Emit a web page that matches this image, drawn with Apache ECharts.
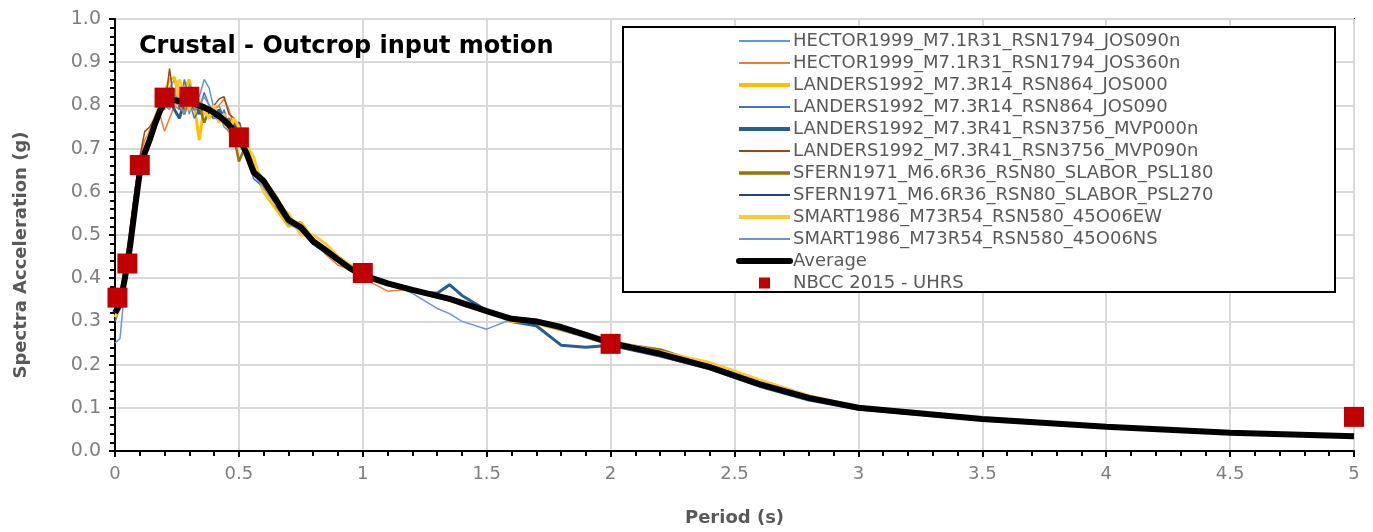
<!DOCTYPE html>
<html>
<head>
<meta charset="utf-8">
<script src="https://cdn.jsdelivr.net/npm/echarts@6/dist/echarts.min.js"></script>
<style>
  html, body { margin: 0; padding: 0; background: #fff; }
  #chart { width: 1373px; height: 532px; }
</style>
</head>
<body>
<div id="chart"></div>
<script>
// Periods (s) shared by every record and the average
const PERIODS = [0, 0.02, 0.04, 0.06, 0.08, 0.1, 0.12, 0.14, 0.16, 0.18,
  0.2, 0.22, 0.24, 0.26, 0.28, 0.3, 0.32, 0.34, 0.36, 0.38,
  0.4, 0.42, 0.44, 0.46, 0.48, 0.5, 0.53, 0.56, 0.6, 0.65,
  0.7, 0.75, 0.8, 0.85, 0.9, 0.95, 1.0, 1.1, 1.2, 1.3,
  1.35, 1.4, 1.5, 1.6, 1.7, 1.8, 1.9, 2.0, 2.2, 2.4,
  2.6, 2.8, 3.0, 3.5, 4.0, 4.5, 5.0];

// Spectral acceleration (g) of each scaled record
const HECTOR_JOS090N = [0.31,0.33,0.39,0.47,0.55,0.63,0.68,0.71,0.74,0.78,
  0.80,0.84,0.86,0.80,0.82,0.78,0.83,0.82,0.86,0.84,
  0.79,0.80,0.77,0.74,0.76,0.72,0.70,0.64,0.61,0.57,
  0.53,0.51,0.48,0.46,0.44,0.42,0.40,0.39,0.37,0.36,
  0.35,0.34,0.32,0.30,0.295,0.28,0.265,0.245,0.22,0.19,
  0.15,0.12,0.098,0.073,0.055,0.042,0.034];
const HECTOR_JOS360N = [0.33,0.35,0.42,0.50,0.60,0.68,0.72,0.74,0.76,0.78,
  0.74,0.77,0.80,0.79,0.83,0.80,0.79,0.81,0.78,0.80,
  0.79,0.80,0.815,0.79,0.75,0.72,0.69,0.66,0.63,0.59,
  0.54,0.52,0.49,0.455,0.43,0.42,0.40,0.37,0.375,0.355,
  0.348,0.336,0.32,0.31,0.305,0.285,0.265,0.248,0.225,0.19,
  0.152,0.12,0.10,0.074,0.056,0.042,0.034];
const LANDERS_JOS000 = [0.31,0.33,0.40,0.48,0.56,0.64,0.70,0.74,0.77,0.80,
  0.83,0.86,0.865,0.82,0.84,0.86,0.80,0.72,0.80,0.78,
  0.77,0.78,0.76,0.74,0.72,0.73,0.71,0.66,0.60,0.56,
  0.52,0.53,0.49,0.47,0.45,0.43,0.41,0.385,0.37,0.36,
  0.355,0.345,0.325,0.30,0.295,0.28,0.265,0.25,0.225,0.20,
  0.16,0.125,0.101,0.075,0.056,0.042,0.034];
const LANDERS_JOS090 = [0.30,0.33,0.39,0.46,0.55,0.64,0.69,0.71,0.75,0.79,
  0.81,0.80,0.84,0.79,0.86,0.81,0.77,0.79,0.83,0.80,
  0.78,0.76,0.79,0.75,0.73,0.74,0.68,0.63,0.61,0.58,
  0.54,0.51,0.48,0.465,0.44,0.42,0.41,0.39,0.37,0.355,
  0.35,0.34,0.32,0.305,0.30,0.28,0.265,0.245,0.22,0.19,
  0.15,0.12,0.098,0.073,0.055,0.042,0.033];
const LANDERS_MVP000N = [0.32,0.34,0.40,0.47,0.56,0.65,0.69,0.73,0.76,0.78,
  0.80,0.82,0.79,0.77,0.81,0.80,0.82,0.78,0.80,0.79,
  0.77,0.79,0.77,0.76,0.75,0.76,0.69,0.64,0.62,0.57,
  0.53,0.52,0.48,0.46,0.44,0.42,0.405,0.39,0.37,0.365,
  0.385,0.36,0.325,0.30,0.29,0.245,0.24,0.245,0.22,0.19,
  0.15,0.118,0.097,0.072,0.055,0.042,0.034];
const LANDERS_MVP090N = [0.33,0.36,0.43,0.51,0.60,0.68,0.74,0.75,0.77,0.80,
  0.79,0.885,0.80,0.81,0.79,0.82,0.80,0.79,0.80,0.78,
  0.80,0.815,0.82,0.78,0.77,0.72,0.70,0.65,0.62,0.58,
  0.54,0.52,0.49,0.47,0.445,0.425,0.41,0.385,0.37,0.36,
  0.35,0.345,0.325,0.31,0.30,0.285,0.27,0.25,0.228,0.195,
  0.155,0.123,0.10,0.074,0.056,0.042,0.034];
const SFERN_PSL180 = [0.32,0.34,0.40,0.47,0.56,0.64,0.70,0.73,0.76,0.79,
  0.81,0.80,0.83,0.80,0.78,0.82,0.79,0.80,0.76,0.79,
  0.78,0.77,0.76,0.77,0.73,0.67,0.71,0.64,0.63,0.59,
  0.54,0.51,0.49,0.46,0.44,0.42,0.405,0.385,0.372,0.357,
  0.35,0.342,0.323,0.305,0.30,0.29,0.272,0.252,0.235,0.198,
  0.157,0.124,0.101,0.075,0.056,0.043,0.034];
const SFERN_PSL270 = [0.32,0.34,0.40,0.47,0.56,0.65,0.69,0.72,0.76,0.79,
  0.82,0.80,0.82,0.80,0.80,0.81,0.79,0.81,0.80,0.78,
  0.79,0.77,0.77,0.75,0.74,0.73,0.69,0.65,0.62,0.58,
  0.53,0.52,0.48,0.465,0.445,0.42,0.407,0.388,0.372,0.358,
  0.35,0.342,0.323,0.305,0.30,0.285,0.268,0.25,0.225,0.193,
  0.153,0.122,0.10,0.074,0.056,0.042,0.034];
const SMART_45O06EW = [0.31,0.33,0.40,0.48,0.57,0.65,0.70,0.73,0.76,0.79,
  0.82,0.84,0.80,0.86,0.83,0.79,0.84,0.81,0.79,0.77,
  0.80,0.76,0.78,0.74,0.77,0.75,0.71,0.68,0.60,0.57,
  0.55,0.50,0.50,0.48,0.45,0.43,0.41,0.39,0.375,0.36,
  0.355,0.34,0.322,0.30,0.298,0.285,0.27,0.255,0.23,0.205,
  0.165,0.128,0.102,0.075,0.057,0.043,0.034];
const SMART_45O06NS = [0.25,0.26,0.38,0.46,0.55,0.63,0.68,0.71,0.75,0.78,
  0.80,0.79,0.83,0.80,0.78,0.85,0.79,0.80,0.82,0.80,
  0.77,0.78,0.75,0.74,0.72,0.71,0.69,0.64,0.61,0.57,
  0.525,0.51,0.48,0.46,0.44,0.42,0.41,0.39,0.365,0.33,
  0.318,0.30,0.282,0.305,0.295,0.28,0.262,0.245,0.22,0.19,
  0.15,0.12,0.098,0.073,0.055,0.042,0.034];

// Mean spectrum of the ten records
const AVERAGE = [0.32,0.34,0.40,0.47,0.56,0.645,0.69,0.72,0.755,0.785,
  0.81,0.812,0.812,0.81,0.81,0.81,0.805,0.80,0.795,0.79,
  0.783,0.775,0.766,0.755,0.74,0.725,0.69,0.645,0.625,0.58,
  0.535,0.518,0.485,0.465,0.443,0.422,0.407,0.388,0.373,0.359,
  0.352,0.343,0.324,0.306,0.300,0.287,0.269,0.25,0.225,0.194,
  0.155,0.123,0.10,0.074,0.056,0.042,0.034];

// NBCC 2015 uniform hazard spectrum
const UHRS_PERIODS = [0.01, 0.05, 0.1, 0.2, 0.3, 0.5, 1.0, 2.0, 5.0];
const UHRS_VALUES = [0.355, 0.434, 0.662, 0.818, 0.82, 0.726, 0.412, 0.248, 0.079];

const RECORD_NAMES = [
  'HECTOR1999_M7.1R31_RSN1794_JOS090n',
  'HECTOR1999_M7.1R31_RSN1794_JOS360n',
  'LANDERS1992_M7.3R14_RSN864_JOS000',
  'LANDERS1992_M7.3R14_RSN864_JOS090',
  'LANDERS1992_M7.3R41_RSN3756_MVP000n',
  'LANDERS1992_M7.3R41_RSN3756_MVP090n',
  'SFERN1971_M6.6R36_RSN80_SLABOR_PSL180',
  'SFERN1971_M6.6R36_RSN80_SLABOR_PSL270',
  'SMART1986_M73R54_RSN580_45O06EW',
  'SMART1986_M73R54_RSN580_45O06NS'
];
const RECORD_VALUES = [HECTOR_JOS090N, HECTOR_JOS360N, LANDERS_JOS000, LANDERS_JOS090,
  LANDERS_MVP000N, LANDERS_MVP090N, SFERN_PSL180, SFERN_PSL270, SMART_45O06EW, SMART_45O06NS];
const RECORD_COLORS = ['#5B9BD5', '#ED7D31', '#FFC000', '#4472C4', '#255E91',
  '#9E480E', '#997300', '#264478', '#FFC935', '#6F94D6'];
const RECORD_WIDTHS = [1.5, 1.5, 3, 1.5, 3, 1.5, 2.5, 1.5, 3, 1.5];
const LEGEND_WIDTHS = [2, 2, 4, 2, 4, 2, 3.5, 2, 4, 2];

const FONT = '"DejaVu Sans", sans-serif';
const GREY = '#7f7f7f';
const DARK = '#595959';

const pairs = (xs, ys) => xs.map((x, i) => [x, ys[i]]);

const series = RECORD_NAMES.map((name, i) => ({
  name: name,
  type: 'line',
  data: pairs(PERIODS, RECORD_VALUES[i]),
  showSymbol: false,
  symbol: 'none',
  lineStyle: { color: RECORD_COLORS[i], width: RECORD_WIDTHS[i] },
  itemStyle: { color: RECORD_COLORS[i] },
  z: 2,
  animation: false
}));
series.push({
  name: 'Average',
  type: 'line',
  data: pairs(PERIODS, AVERAGE),
  showSymbol: false,
  symbol: 'none',
  lineStyle: { color: '#000', width: 6 },
  itemStyle: { color: '#000' },
  z: 3,
  animation: false
});
series.push({
  name: 'NBCC 2015 - UHRS',
  type: 'scatter',
  data: pairs(UHRS_PERIODS, UHRS_VALUES),
  symbol: 'rect',
  symbolSize: 20,
  itemStyle: { color: '#C00000', opacity: 1 },
  z: 4,
  clip: false,
  animation: false
});

// legend entries: plain line swatches for the spectra, a small square for the code spectrum
const legendData = RECORD_NAMES.map((name, i) => ({
  name: name,
  itemStyle: { opacity: 0 },
  lineStyle: { width: LEGEND_WIDTHS[i] }
}));
legendData.push({ name: 'Average', itemStyle: { opacity: 0 }, lineStyle: { width: 6, cap: 'round' } });
legendData.push({ name: 'NBCC 2015 - UHRS', icon: 'path://M0,0H10V10H0Z', itemStyle: { opacity: 1 } });

const chart = echarts.init(document.getElementById('chart'), null, { renderer: 'canvas' });
chart.setOption({
  animation: false,
  backgroundColor: '#fff',
  textStyle: { fontFamily: FONT },
  grid: {
    left: 115, right: 19, top: 19, bottom: 81,
    show: true, borderColor: '#000', borderWidth: 2, containLabel: false
  },
  title: {
    text: 'Crustal - Outcrop input motion',
    left: 134, top: 30,
    textStyle: { fontFamily: FONT, fontWeight: 'bold', fontSize: 24, color: '#000' }
  },
  xAxis: {
    type: 'value', min: 0, max: 5, interval: 0.5,
    name: 'Period (s)', nameLocation: 'middle', nameGap: 58,
    nameTextStyle: { fontFamily: FONT, fontWeight: 'bold', fontSize: 18, color: DARK },
    axisLine: { lineStyle: { color: '#000', width: 2 } },
    axisTick: { inside: false, length: 6, lineStyle: { color: '#000', width: 2 } },
    minorTick: { show: true, splitNumber: 5, length: 5, lineStyle: { color: '#000', width: 2 } },
    axisLabel: { color: GREY, fontSize: 18, margin: 14, fontFamily: FONT,
      formatter: v => String(+v.toFixed(1)) },
    splitLine: { show: true, lineStyle: { color: '#d9d9d9', width: 2 } }
  },
  yAxis: {
    type: 'value', min: 0, max: 1, interval: 0.1,
    axisLine: { lineStyle: { color: '#000', width: 2 } },
    axisTick: { inside: false, length: 6, lineStyle: { color: '#000', width: 2 } },
    minorTick: { show: true, splitNumber: 5, length: 5, lineStyle: { color: '#000', width: 2 } },
    axisLabel: { color: GREY, fontSize: 19, margin: 14, fontFamily: FONT,
      formatter: v => v.toFixed(1) },
    splitLine: { show: true, lineStyle: { color: '#d9d9d9', width: 2 } }
  },
  graphic: [{
    type: 'rect',
    z: 5,
    shape: { x: 623, y: 27, width: 712, height: 265 },
    style: { fill: '#fff', stroke: '#000', lineWidth: 2 }
  }, {
    type: 'text',
    x: 21, y: 255,
    rotation: Math.PI / 2,
    style: {
      text: 'Spectra Acceleration (g)',
      fill: DARK, font: 'bold 18px "DejaVu Sans", sans-serif',
      align: 'center', verticalAlign: 'middle'
    }
  }],
  legend: {
    orient: 'vertical',
    left: 731, top: 27,
    z: 10,
    itemWidth: 51, itemHeight: 11, itemGap: 4,
    symbolKeepAspect: true,
    textStyle: { fontFamily: FONT, fontSize: 18, lineHeight: 17, color: DARK, padding: [0, 0, 0, -2] },
    data: legendData
  },
  series: series
});
</script>
</body>
</html>
